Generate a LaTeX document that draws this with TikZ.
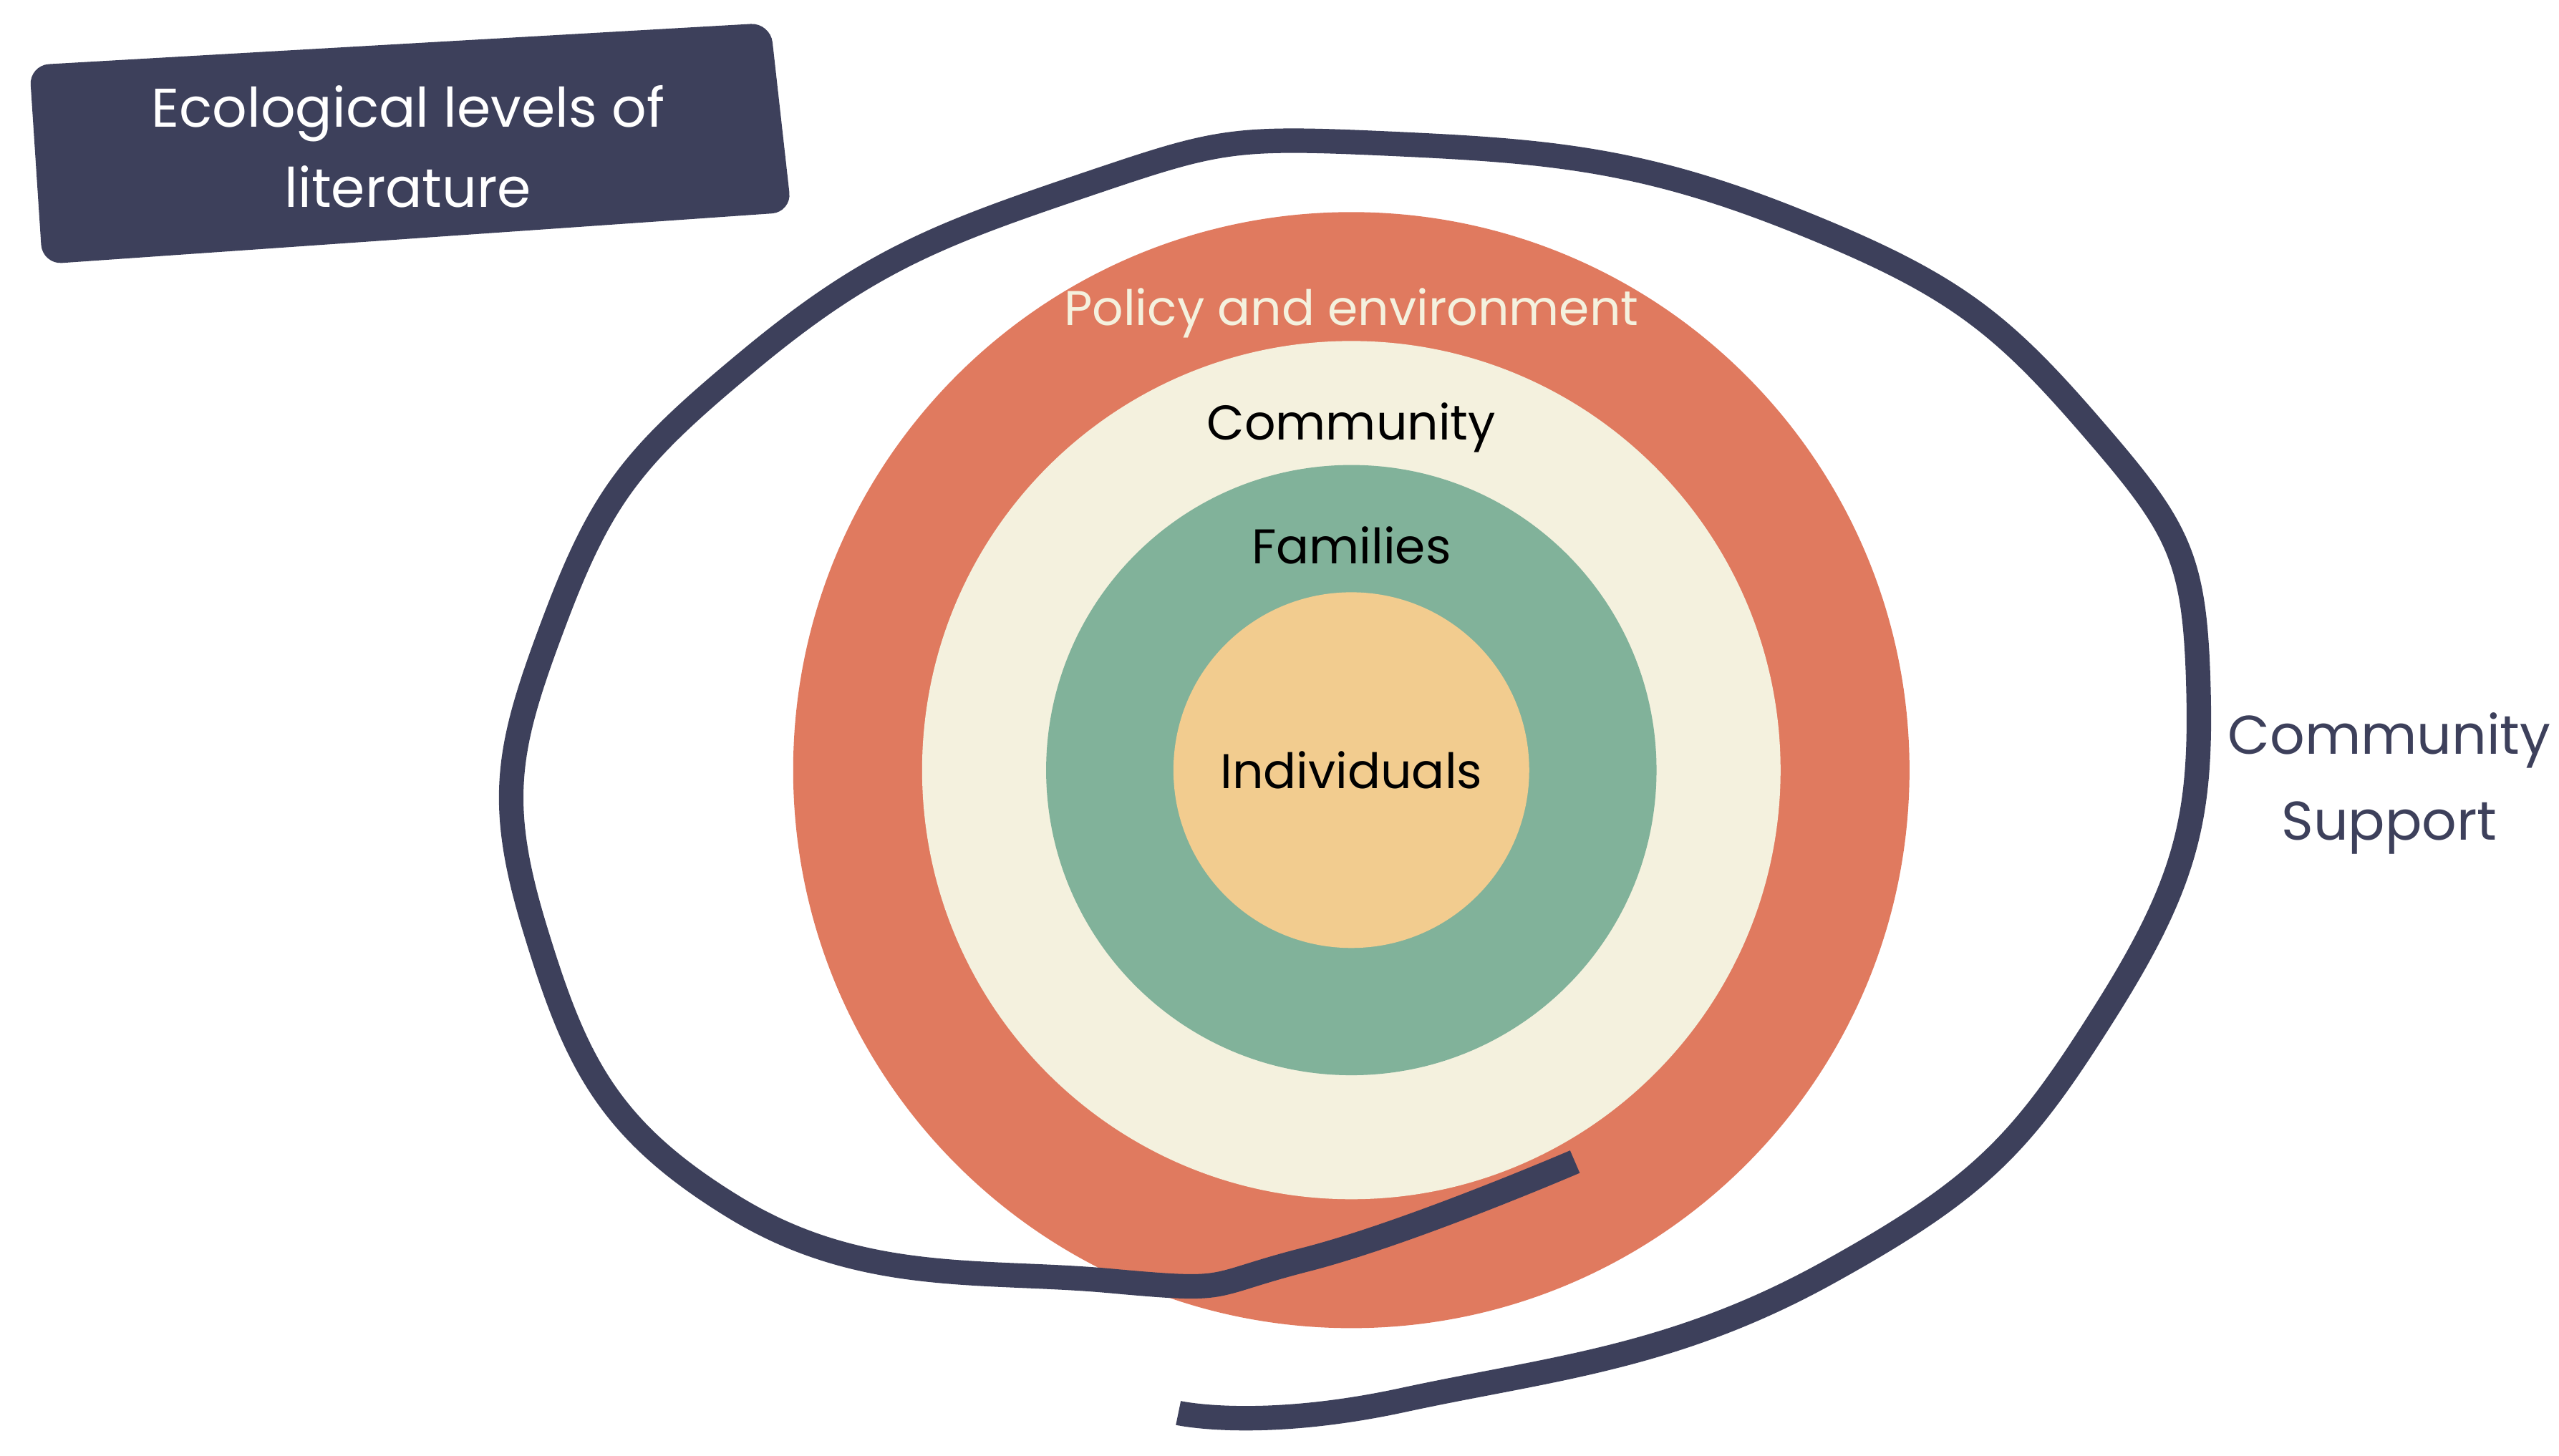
\documentclass[tikz,border=0pt]{standalone}
\usepackage{fontspec}
\setmainfont{Poppins}
\usetikzlibrary{positioning}
\definecolor{navy}{HTML}{3D405B}
\definecolor{terra}{HTML}{E07A5F}
\definecolor{cream}{HTML}{F4F1DE}
\definecolor{sage}{HTML}{81B29A}
\definecolor{sand}{HTML}{F2CC8F}
\tikzset{
  ring/.style={circle, inner sep=0pt, minimum size=#1},
  lbl/.style={font=\fontsize{8.5}{10}\selectfont, text=black},
}
\begin{document}
\begin{tikzpicture}
    \useasboundingbox (0,0) rectangle (15.68,8.92);
    \def\cx{8.28} % centre x
    \def\cy{4.20} % centre y
    % rings, outer first
    \node [ring=6.84cm, fill=terra] (policy) at (\cx,\cy) {};
    \node [ring=5.26cm, fill=cream] (comm) at (\cx,\cy) {};
    \node [ring=3.74cm, fill=sage] (fam) at (\cx,\cy) {};
    \node [ring=2.18cm, fill=sand, lbl] (indiv) at (\cx,\cy) {Individuals};

    \node [lbl, text=cream, below=0.35cm of policy.north] {Policy and environment};
    \node [lbl, below=0.26cm of comm.north] {Community};
    \node [lbl, below=0.26cm of fam.north] {Families};

    % spiral band
    \draw [navy, line width=0.15cm, line cap=butt, yscale=-1, yshift=-8.92cm]
      plot [smooth, tension=0.8] coordinates {(9.65,7.12) (8.00,7.72)
      (6.80,7.85) (4.50,7.40) (3.28,5.70) (3.40,3.80)
      (4.60,2.20) (6.60,1.15) (8.50,0.88)
      (11.00,1.35) (12.80,2.60) (13.47,4.20)
      (12.90,6.20) (11.20,7.80) (8.60,8.58) (7.22,8.66)};

    \node [font=\fontsize{9.5}{15}\selectfont, text=navy, align=center] (support)
      at (14.64,4.12) {Community\\Support};

    % title banner
    \fill [navy, rounded corners=0.12cm] (0.18,8.52) -- (4.72,8.78) -- (4.85,7.62) -- (0.26,7.30) -- cycle;
    \node [font=\fontsize{9.5}{14}\selectfont, text=white, align=center] (title)
      at (2.50,8.02) {Ecological levels of\\literature};
\end{tikzpicture}
\end{document}
